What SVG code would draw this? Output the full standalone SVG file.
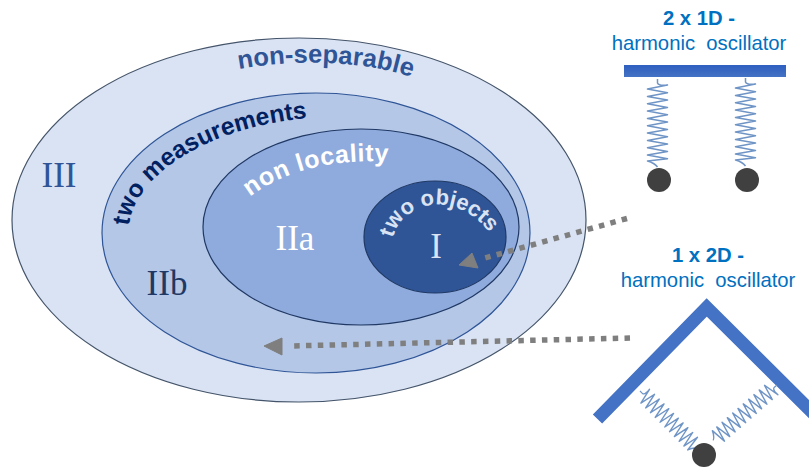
<svg xmlns="http://www.w3.org/2000/svg" xmlns:xlink="http://www.w3.org/1999/xlink" width="809" height="467" viewBox="0 0 809 467">
<style>
.lab{font-family:"Liberation Sans",Arial,sans-serif;font-weight:700}
.rom{font-family:"Liberation Serif","Times New Roman",serif;font-size:35px;text-anchor:middle}
.osc{font-family:"Liberation Sans",Arial,sans-serif;fill:#0070c0;text-anchor:middle;font-size:20.3px}
.spring{fill:none;stroke:#6f94c6;stroke-width:1.5;stroke-linejoin:round}
.ball{fill:#404040}
.bar{fill:none;stroke:#4472c4;stroke-width:13;stroke-linejoin:miter}
.flow{fill:none;stroke:#7f7f7f;stroke-width:5.500;stroke-dasharray:5.5 6.3}
</style>
<defs>
<linearGradient id="barg" x1="0" y1="0" x2="0" y2="1"><stop offset="0" stop-color="#2f5fc0"/><stop offset="1" stop-color="#4472c4"/></linearGradient>
<path id="sp" d="M0,0V4Q1,7 10,6L-10,10L10,13.7L-10,17.4L10,21L-10,24.7L10,28.4L-10,32L10,35.7L-10,39.4L10,43L-10,46.7L10,50.4L-10,54L10,57.7L-10,61.4L10,65L-10,68.7L10,72.4L-10,76L10,79.7L-10,82Q-3,84 0,88"/>
<path id="p1" d="M239,69C290,60 360,58 420,80"/>
<path id="p2" d="M129,226C135,172 215,125 310,118"/>
<path id="p3" d="M250,197C285,170 335,158 392,162"/>
<path id="p4" d="M393,238C402,200 462,186 496,242"/>
</defs>
<g id="region-III"><ellipse cx="299" cy="220" rx="287" ry="182" fill="#dae3f3" stroke="#44546a" stroke-width="1.2"/>
<text class="lab" font-size="25.5" fill="#2f5597"><textPath xlink:href="#p1" href="#p1">non-separable</textPath></text>
<text class="rom" x="59" y="187" fill="#2f5597">III</text></g>
<g id="region-IIb"><ellipse cx="316" cy="233" rx="214" ry="140" fill="#b4c7e7" stroke="#2f5597" stroke-width="1.2"/>
<text class="lab" font-size="24.5" fill="#002060"><textPath xlink:href="#p2" href="#p2">two measurements</textPath></text>
<text class="rom" x="167" y="295" fill="#1f3864">IIb</text></g>
<g id="region-IIa"><ellipse cx="361" cy="227" rx="158" ry="98" fill="#8faadc" stroke="#1f3864" stroke-width="1.2"/>
<text class="lab" font-size="25" letter-spacing=".6" fill="#fff"><textPath xlink:href="#p3" href="#p3">non locality</textPath></text>
<text class="rom" x="295" y="250" fill="#fff">IIa</text></g>
<g id="region-I"><ellipse cx="435" cy="237" rx="71" ry="56" fill="#2f5597" stroke="#1f3864" stroke-width="1.2"/>
<text class="lab" font-size="22" fill="#dae3f3"><textPath xlink:href="#p4" href="#p4">two objects</textPath></text>
<text class="rom" x="436" y="258" fill="#dae3f3">I</text></g>
<g id="oscillator-2x1D">
<text class="osc" x="699" y="25" font-weight="700">2 x 1D -</text>
<text class="osc" x="699" y="50" xml:space="preserve">harmonic  oscillator</text>
<rect x="624" y="65" width="162" height="12" fill="url(#barg)"/>
<use href="#sp" xlink:href="#sp" transform="translate(657.5,79)" class="spring"/>
<use href="#sp" xlink:href="#sp" transform="translate(745.5,78)" class="spring"/>
<circle class="ball" cx="659" cy="180" r="12"/>
<circle class="ball" cx="747" cy="180" r="12"/>
</g>
<g id="oscillator-1x2D">
<text class="osc" x="708" y="262" font-weight="700">1 x 2D -</text>
<text class="osc" x="708" y="287" xml:space="preserve">harmonic  oscillator</text>
<path class="bar" d="M597.5,419L706.7,307.5L815,415"/>
<use href="#sp" xlink:href="#sp" transform="translate(640,391) rotate(-45) scale(.8,.92)" class="spring"/>
<use href="#sp" xlink:href="#sp" transform="translate(777,385) rotate(49) scale(.8,.96)" class="spring"/>
<circle class="ball" cx="704" cy="455" r="12"/>
</g>
<g id="connectors">
<path class="flow" d="M627,218.500L485,258"/>
<path d="M459,265L472,253L478,268Z" fill="#7f7f7f" stroke="#7f7f7f"/>
<path class="flow" d="M630,338L290,346"/>
<path d="M264,346L282,338L282,355Z" fill="#7f7f7f" stroke="#7f7f7f"/>
</g>
</svg>
